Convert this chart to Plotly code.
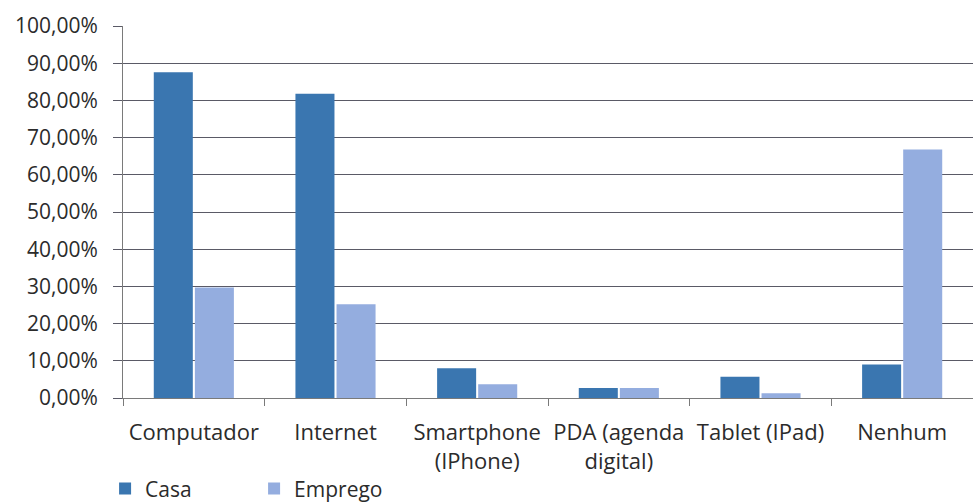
import plotly.graph_objects as go

categories = ["Computador", "Internet", "Smartphone<br>(IPhone)",
              "PDA (agenda<br>digital)", "Tablet (IPad)", "Nenhum"]
casa = [0.876, 0.818, 0.080, 0.027, 0.057, 0.090]
emprego = [0.297, 0.252, 0.037, 0.027, 0.013, 0.668]

y_ticks = [i / 10 for i in range(11)]

font_family = "Open Sans, Noto Sans, sans-serif"
text_color = "#2b2b2b"

fig = go.Figure()
fig.add_trace(go.Bar(name="Casa", x=categories, y=casa,
                     marker=dict(color="#3a76b0", line=dict(width=0))))
fig.add_trace(go.Bar(name="Emprego", x=categories, y=emprego,
                     marker=dict(color="#94addf", line=dict(width=0))))

fig.update_layout(
    width=973, height=504,
    margin=dict(l=123, r=0, t=26, b=106, autoexpand=False),
    paper_bgcolor="white", plot_bgcolor="white",
    separators=",.",
    barmode="group", bargap=0.42, bargroupgap=0.05,
    font=dict(family=font_family, size=20, color=text_color),
    showlegend=True,
    legend=dict(orientation="h", xref="container", yref="container",
                x=0.108, xanchor="left", y=0.03, yanchor="middle",
                font=dict(size=21, color=text_color),
                entrywidth=104, entrywidthmode="pixels",
                itemwidth=30, traceorder="normal", bgcolor="rgba(0,0,0,0)"),
)
fig.update_xaxes(
    type="category", tickson="boundaries", automargin=False,
    showline=True, linecolor="#7a7a7a", linewidth=1,
    ticks="outside", ticklen=7, tickcolor="#7a7a7a",
    showgrid=False, ticklabelstandoff=15,
    tickfont=dict(size=22, color=text_color),
)
fig.update_yaxes(
    range=[0, 1], tickvals=y_ticks, tickformat=".2%", automargin=False,
    showline=True, linecolor="#7a7a7a", linewidth=1,
    ticks="outside", ticklen=9, tickcolor="#5a5a66",
    showgrid=True, gridcolor="#5a5a66", gridwidth=1,
    zeroline=False, ticklabelstandoff=11,
    tickfont=dict(size=21, color=text_color),
)

fig.write_html("out.html")
